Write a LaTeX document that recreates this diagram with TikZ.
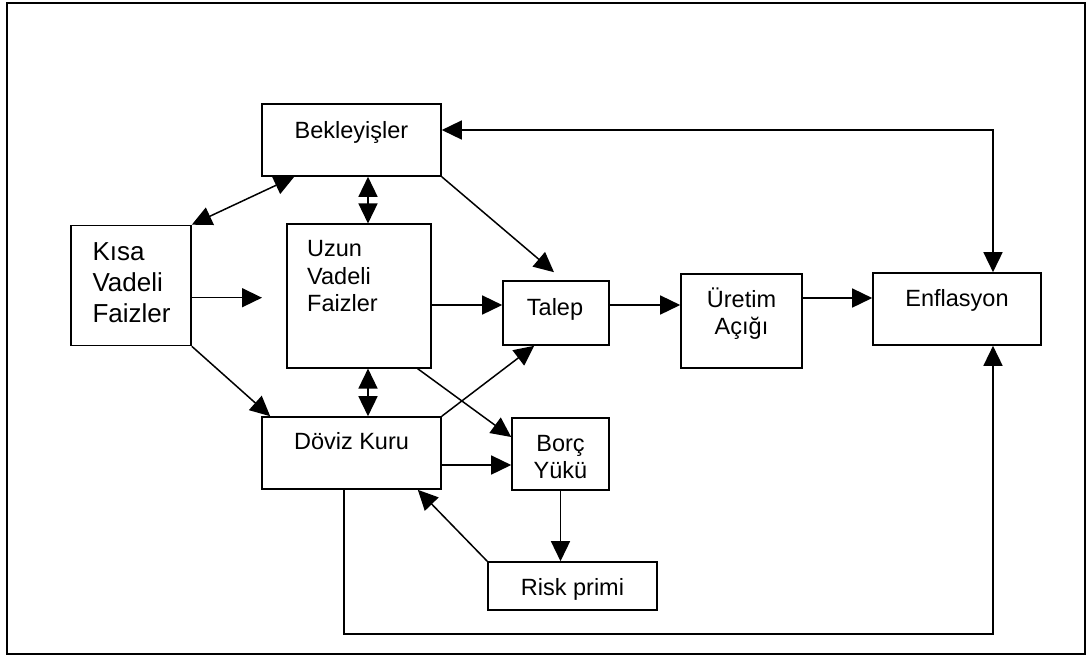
\documentclass[tikz,border=0pt]{standalone}
\usepackage{fontspec}
\setmainfont{Liberation Sans}
\usetikzlibrary{arrows.meta,calc}
\begin{document}
\begin{tikzpicture}[x=1pt,y=-1pt,
  box/.style={draw,line width=1.6pt,inner sep=0pt,minimum width=#1},
  arr/.style={line width=1.5pt,-{Triangle[length=20pt,width=19pt]}},
  biarr/.style={line width=1.5pt,{Triangle[length=20pt,width=19pt]}-{Triangle[length=20pt,width=19pt]}},
  lbl/.style={inner sep=0pt,anchor=base,font=\fontsize{23.5}{27.5}\selectfont},
  lblw/.style={inner sep=0pt,anchor=base west,font=\fontsize{23.5}{27.5}\selectfont}]
\useasboundingbox (0,0) rectangle (1089,657);
\draw[line width=2.4pt] (7,3) rectangle (1085,654);
% boxes
\node[box=179pt,minimum height=72pt] (bek) at (351.5,140) {};
\node[box=120pt,minimum height=120pt] (kisa) at (131,285.5) {};
\node[box=144pt,minimum height=143.5pt] (uzun) at (358.7,296) {};
\node[box=106pt,minimum height=64pt] (talep) at (556,313) {};
\node[box=121pt,minimum height=94pt] (uretim) at (741.5,321) {};
\node[box=168pt,minimum height=72pt] (enf) at (957,309) {};
\node[box=179pt,minimum height=72pt] (doviz) at (351.5,453) {};
\node[box=97pt,minimum height=72pt] (borc) at (560.5,454) {};
\node[box=169pt,minimum height=48pt] (risk) at (572.5,586) {};
% labels
\node[lbl] (tbek) at (351.5,138) {Bekleyişler};
\node[inner sep=0pt,anchor=base west,font=\fontsize{26}{31}\selectfont] (tkisa) at (92.3,260.7)
  {\begin{tabular}[t]{@{}l@{}}Kısa\\Vadeli\\Faizler\end{tabular}};
\node[lblw] (tuzun) at (307,256.7) {\begin{tabular}[t]{@{}l@{}}Uzun\\Vadeli\\Faizler\end{tabular}};
\node[lbl] (ttalep) at (555,315) {Talep};
\node[lbl] (turetim) at (741.5,307) {\begin{tabular}[t]{@{}c@{}}Üretim\\Açığı\end{tabular}};
\node[lbl] (tenf) at (957,306) {Enflasyon};
\node[lbl] (tdoviz) at (351.5,449) {Döviz Kuru};
\node[lbl] (tborc) at (560.5,451) {\begin{tabular}[t]{@{}c@{}}Borç\\Yükü\end{tabular}};
\node[lbl] (trisk) at (572.5,595) {Risk primi};
% connectors
\coordinate (gap) at (262,297.7);
\coordinate (bekR) at ($(bek.east)+(0,-10)$);
\draw[biarr] (bekR) -| ($(enf.north)+(36,0)$);
\draw[biarr] (kisa.north east) -- ($(bek.south west)+(33,0)$);
\coordinate (bu) at ($(bek.south)+(16.5,0)$);
\draw[biarr] (bu) -- (bu |- uzun.north);
\draw[arr] (bek.south east) -- ($(talep.north)+(-2,-8)$);
\draw[arr] (kisa.east |- gap) -- (gap);
\coordinate (ut) at ($(uzun.east)+(0,9)$);
\draw[arr] (ut) -- (ut -| talep.west);
\coordinate (tu) at ($(talep.east)+(0,-8)$);
\draw[arr] (tu) -- (tu -| uretim.west);
\coordinate (ue) at ($(uretim.east)+(0,-23)$);
\draw[arr] (ue) -- (ue -| enf.west);
\draw[arr] (kisa.south east) -- ($(doviz.north west)+(9,0)$);
\coordinate (ud) at ($(uzun.south)+(9.3,0)$);
\draw[biarr] (ud) -- (ud |- doviz.north);
\draw[arr] (doviz.north east) -- ($(talep.south west)+(32,0)$);
\draw[arr] ($(uzun.south east)+(-14,0)$) -- ($(borc.west)+(0,-17)$);
\coordinate (db) at ($(doviz.east)+(0,12)$);
\draw[arr] (db) -- (db -| borc.west);
\draw[arr] (borc.south) -- (borc.south |- risk.north);
\draw[arr] (risk.north west) -- ($(doviz.south east)+(-24,0)$);
\draw[arr] ($(doviz.south)+(-7.5,0)$) -- ++(0,144) -| ($(enf.south)+(36,0)$);
\end{tikzpicture}
\end{document}
